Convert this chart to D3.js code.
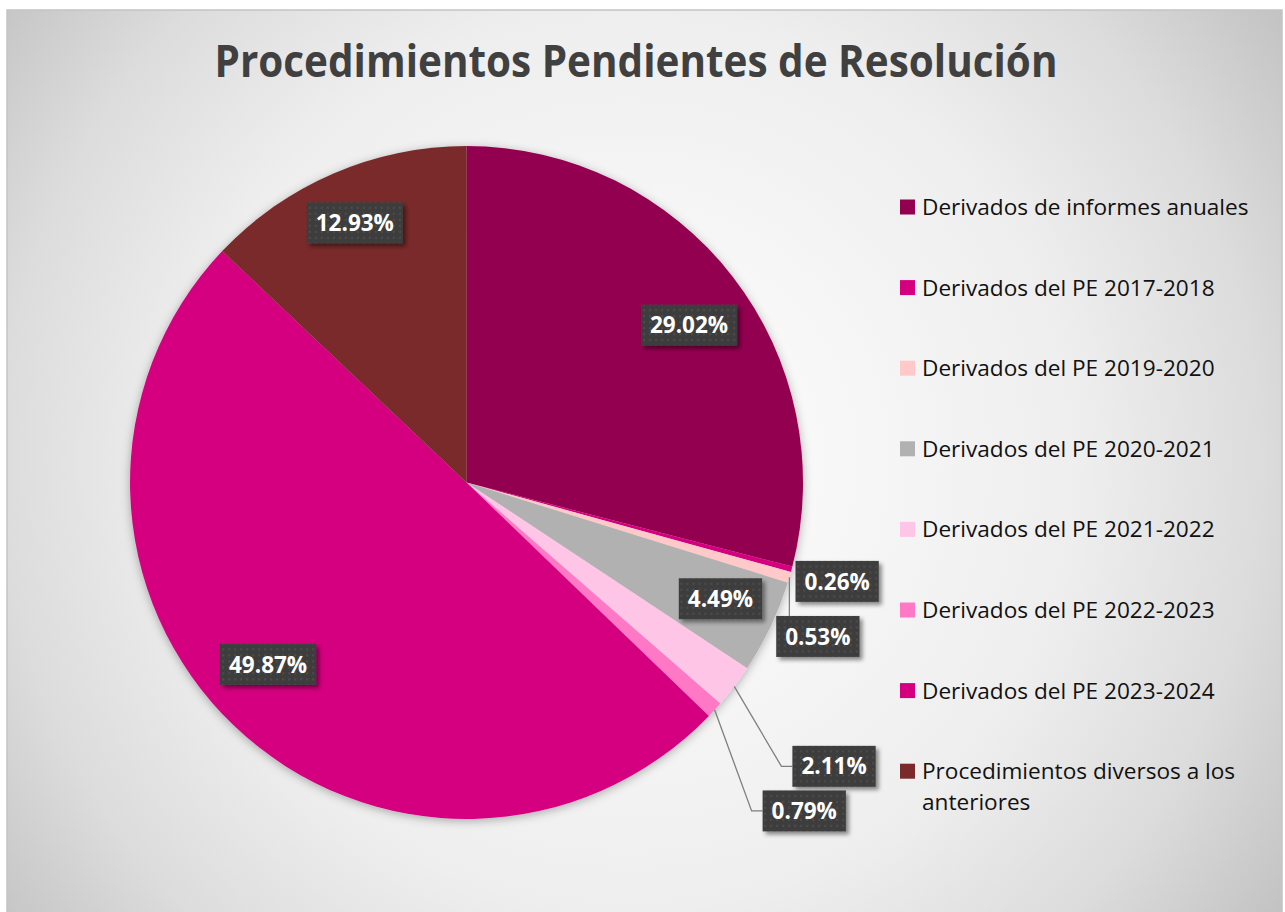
<!DOCTYPE html>
<html>
<head>
<meta charset="utf-8">
<script src="https://cdn.jsdelivr.net/npm/d3@7"></script>
<style>
  body { margin: 0; background: #fff; }
  svg { display: block; }
</style>
</head>
<body>
<script>
// chart values
const categories = [
  "Derivados de informes anuales",
  "Derivados del PE 2017-2018",
  "Derivados del PE 2019-2020",
  "Derivados del PE 2020-2021",
  "Derivados del PE 2021-2022",
  "Derivados del PE 2022-2023",
  "Derivados del PE 2023-2024",
  "Procedimientos diversos a los anteriores"
];
const values = [29.02, 0.26, 0.53, 4.49, 2.11, 0.79, 49.87, 12.93];
const colors = ["#93004f", "#d5007f", "#ffc9c9", "#b1b1b1", "#ffc5e6", "#ff78c5", "#d5007f", "#7a2a2a"];
const title = "Procedimientos Pendientes de Resolución";

// label placement: radius factor + angle nudge (deg), leader line or not
const labelR = [0.81, 1.14, 1.14, 0.83, 1.38, 1.40, 0.80, 0.84];
const labelNudge = [2.5, 0, 7.3, -0.8, 0.4, 1.7, 3.8, 0];
const hasLeader = [false, false, true, false, true, true, false, false];

const W = 1285, H = 912;
const svg = d3.select("body").append("svg")
  .attr("width", W).attr("height", H);

const defs = svg.append("defs");
const bg = defs.append("radialGradient")
  .attr("id", "bg")
  .attr("gradientUnits", "userSpaceOnUse")
  .attr("cx", 630).attr("cy", 460).attr("r", 790);
[[0, "#ffffff"], [0.57, "#eeeeee"], [0.8, "#dcdcdc"], [1, "#c3c3c3"]].forEach(s =>
  bg.append("stop").attr("offset", s[0]).attr("stop-color", s[1]));

const pat = defs.append("pattern")
  .attr("id", "dots")
  .attr("patternUnits", "userSpaceOnUse")
  .attr("width", 6).attr("height", 6);
pat.append("rect").attr("width", 6).attr("height", 6).attr("fill", "#3e3e3e");
pat.append("rect").attr("x", 2).attr("y", 2).attr("width", 2).attr("height", 2).attr("fill", "#4c4c4c");

const shadow = defs.append("filter").attr("id", "shadow")
  .attr("x", "-30%").attr("y", "-30%").attr("width", "160%").attr("height", "160%");
shadow.append("feDropShadow").attr("dx", 3).attr("dy", 3).attr("stdDeviation", 2)
  .attr("flood-color", "#000").attr("flood-opacity", 0.45);

const pieShadow = defs.append("filter").attr("id", "pieShadow")
  .attr("x", "-10%").attr("y", "-10%").attr("width", "120%").attr("height", "120%");
pieShadow.append("feDropShadow").attr("dx", 0).attr("dy", 2).attr("stdDeviation", 5)
  .attr("flood-color", "#000").attr("flood-opacity", 0.3);

// chart area
svg.append("rect")
  .attr("x", 7).attr("y", 10).attr("width", 1275).attr("height", 910)
  .attr("fill", "url(#bg)")
  .attr("stroke", "#c4c4c4").attr("stroke-width", 1.5);

// title
svg.append("text")
  .attr("x", 636).attr("y", 77)
  .attr("text-anchor", "middle")
  .attr("font-family", "'Open Sans', sans-serif")
  .attr("font-weight", 700)
  .attr("font-size", 44)
  .attr("fill", "#404040")
  .attr("textLength", 843)
  .attr("lengthAdjust", "spacingAndGlyphs")
  .text(title);

// pie
const cx = 466.5, cy = 482.5, R = 336.5;
const pie = d3.pie().sort(null).value(d => d)(values);
const arc = d3.arc().innerRadius(0).outerRadius(R);

const g = svg.append("g").attr("transform", `translate(${cx},${cy})`);
g.append("g").attr("filter", "url(#pieShadow)")
  .selectAll("path")
  .data(pie)
  .join("path")
  .attr("d", arc)
  .attr("fill", (d, i) => colors[i]);

// labels
const rad = Math.PI / 180;
const labels = pie.map((d, i) => {
  const mid = (d.startAngle + d.endAngle) / 2;
  const a = mid + labelNudge[i] * rad;
  return {
    i, mid,
    x: Math.sin(a) * R * labelR[i],
    y: -Math.cos(a) * R * labelR[i],
    text: d3.format(".2f")(values[i]) + "%"
  };
});

const boxH = 41;
const lab = g.append("g").selectAll("g")
  .data(labels)
  .join("g")
  .attr("transform", d => `translate(${d.x},${d.y})`);

lab.append("rect")
  .attr("class", "box")
  .attr("fill", "url(#dots)")
  .attr("filter", "url(#shadow)");

lab.append("text")
  .attr("text-anchor", "middle")
  .attr("dy", "0.36em")
  .attr("font-family", "'Open Sans', sans-serif")
  .attr("font-weight", 700)
  .attr("font-size", 22.5)
  .attr("fill", "#ffffff")
  .text(d => d.text);

lab.each(function(d) {
  const t = d3.select(this).select("text").node().getComputedTextLength();
  d.w = t + 18;
  d3.select(this).select("rect")
    .attr("x", -d.w / 2).attr("y", -boxH / 2)
    .attr("width", d.w).attr("height", boxH);
});

// leader lines
g.insert("g", ":scope > g:last-child")
  .selectAll("path")
  .data(labels.filter(d => hasLeader[d.i]))
  .join("path")
  .attr("fill", "none")
  .attr("stroke", "#7f7f7f")
  .attr("stroke-width", 1.3)
  .attr("d", d => {
    const ex = Math.sin(d.mid) * R, ey = -Math.cos(d.mid) * R;
    const left = d.x - d.w / 2;
    if (left < ex) {
      return `M${ex},${ey}L${ex},${d.y - boxH / 2}`;
    }
    return `M${ex},${ey}L${left - 11},${d.y}L${left},${d.y}`;
  });

// legend
const legend = svg.append("g").attr("transform", "translate(900,207)");
const item = legend.selectAll("g")
  .data(categories)
  .join("g")
  .attr("transform", (d, i) => `translate(0,${i * 80.6})`);

item.append("rect")
  .attr("x", 0).attr("y", -7.5)
  .attr("width", 15).attr("height", 15)
  .attr("fill", (d, i) => colors[i]);

item.append("text")
  .attr("x", 22)
  .attr("y", 8)
  .attr("font-family", "'Open Sans', sans-serif")
  .attr("font-size", 22.6)
  .attr("fill", "#111")
  .each(function(d) {
    const t = d3.select(this);
    const lines = d.startsWith("Procedimientos") ? ["Procedimientos diversos a los", "anteriores"] : [d];
    lines.forEach((l, k) => {
      t.append("tspan").attr("x", 22).attr("dy", k ? 31 : 0).text(l);
    });
  });
</script>
</body>
</html>
